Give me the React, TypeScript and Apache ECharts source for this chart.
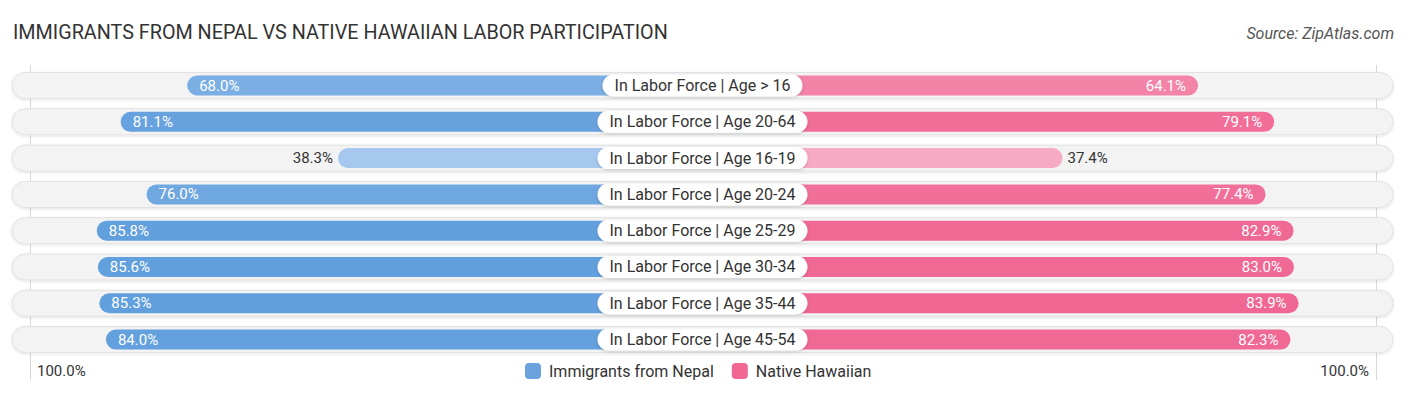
import React, { useEffect, useRef } from "react";
import * as echarts from "echarts";

const categories = [
  "In Labor Force | Age > 16",
  "In Labor Force | Age 20-64",
  "In Labor Force | Age 16-19",
  "In Labor Force | Age 20-24",
  "In Labor Force | Age 25-29",
  "In Labor Force | Age 30-34",
  "In Labor Force | Age 35-44",
  "In Labor Force | Age 45-54",
];
const nepal = [68.0, 81.1, 38.3, 76.0, 85.8, 85.6, 85.3, 84.0];
const hawaiian = [64.1, 79.1, 37.4, 77.4, 82.9, 83.0, 83.9, 82.3];
const seriesNames = ["Immigrants from Nepal", "Native Hawaiian"];
const edgeLabels = ["100.0%", "100.0%"];

const OFFSET = 33.5; // bars start from behind the centre label
const AXIS_MAX = 136;
const INSIDE_MIN = 50;

function lerpColor(a: number[], b: number[], t: number) {
  const c = a.map((v, i) => Math.round(v + (b[i] - v) * t));
  return `rgb(${c[0]},${c[1]},${c[2]})`;
}
const BLUE_LIGHT = [0xa9, 0xc9, 0xee];
const BLUE_DARK = [0x62, 0x9f, 0xdd];
const PINK_LIGHT = [0xf7, 0xab, 0xc3];
const PINK_DARK = [0xf0, 0x65, 0x92];
function shade(light: number[], dark: number[], v: number) {
  const t = Math.max(0, Math.min(1, (v - 37) / (85 - 37)));
  return lerpColor(light, dark, t);
}

export default function App() {
  const ref = useRef<HTMLDivElement>(null);
  useEffect(() => {
    if (!ref.current) return;
    const chart = echarts.init(ref.current, undefined, { renderer: "svg" });
    const font = "Roboto, 'Noto Sans', sans-serif";

    const valueLabel = (v: number, side: "left" | "right") => {
      const inside = v >= INSIDE_MIN;
      return {
        show: true,
        position: inside ? (side === "left" ? "insideLeft" : "insideRight") : side,
        distance: inside ? 12 : 5,
        color: inside ? "#ffffff" : "#333333",
        fontSize: 15,
        fontFamily: font,
        formatter: () => `${v.toFixed(1)}%`,
      };
    };

    const option: any = {
      animation: false,
      grid: { left: 12, right: 13, top: 67.4, height: 290.3, containLabel: false },
      xAxis: { type: "value", min: -AXIS_MAX, max: AXIS_MAX, show: false },
      yAxis: [
        { type: "category", data: categories, inverse: true, show: false },
        { type: "category", data: categories, inverse: true, show: false },
      ],
      title: [
        {
          text: "IMMIGRANTS FROM NEPAL VS NATIVE HAWAIIAN LABOR PARTICIPATION",
          left: 13,
          top: 22,
          padding: 0,
          textStyle: { fontFamily: font, fontSize: 19.75, fontWeight: "normal", color: "#333" },
        },
        {
          text: "Source: ZipAtlas.com",
          right: 12,
          top: 25,
          padding: 0,
          textStyle: { fontFamily: font, fontSize: 16, fontStyle: "italic", fontWeight: "normal", color: "#555" },
        },
      ],
      legend: {
        bottom: 16,
        left: 525,
        padding: 0,
        itemWidth: 16,
        itemHeight: 16,
        itemGap: 18,
        icon: "roundRect",
        textStyle: { fontFamily: font, fontSize: 16, color: "#333", padding: [0, 0, 0, 3] },
        data: seriesNames,
      },
      graphic: [
        { type: "line", shape: { x1: 30.5, y1: 65, x2: 30.5, y2: 380 }, style: { stroke: "#d8d8d8", lineWidth: 1 }, z: 0 },
        { type: "line", shape: { x1: 1376.5, y1: 65, x2: 1376.5, y2: 380 }, style: { stroke: "#d8d8d8", lineWidth: 1 }, z: 0 },
        { type: "text", left: 37, top: 363, style: { text: edgeLabels[0], fontFamily: font, fontSize: 15, fill: "#333" } },
        { type: "text", right: 37, top: 363, style: { text: edgeLabels[1], fontFamily: font, fontSize: 15, fill: "#333" } },
      ],
      series: [
        {
          type: "custom",
          name: "track",
          yAxisIndex: 1,
          z: 1,
          silent: true,
          data: categories.map((_, i) => [i]),
          renderItem: (params: any, api: any) => {
            const i = params.dataIndex;
            const p0 = api.coord([-AXIS_MAX, i]);
            const p1 = api.coord([AXIS_MAX, i]);
            const h = 26;
            return {
              type: "rect",
              shape: { x: p0[0], y: p0[1] - h / 2, width: p1[0] - p0[0], height: h, r: h / 2 },
              style: {
                fill: "#f3f3f3",
                stroke: "#e2e2e2",
                lineWidth: 1,
                shadowBlur: 3,
                shadowColor: "rgba(0,0,0,0.12)",
                shadowOffsetY: 1,
              },
            };
          },
        },
        {
          type: "bar",
          name: seriesNames[0],
          yAxisIndex: 0,
          z: 2,
          barWidth: 20,
          barGap: "-100%",
          itemStyle: { color: "#6aa2de", borderRadius: 10 },
          data: nepal.map((v) => ({
            value: -(v + OFFSET),
            itemStyle: { color: shade(BLUE_LIGHT, BLUE_DARK, v) },
            label: valueLabel(v, "left"),
          })),
        },
        {
          type: "bar",
          name: seriesNames[1],
          yAxisIndex: 0,
          z: 2,
          barWidth: 20,
          barGap: "-100%",
          itemStyle: { color: "#f06892", borderRadius: 10 },
          data: hawaiian.map((v) => ({
            value: v + OFFSET,
            itemStyle: { color: shade(PINK_LIGHT, PINK_DARK, v) },
            label: valueLabel(v, "right"),
          })),
        },
        {
          type: "scatter",
          name: "centre",
          yAxisIndex: 1,
          z: 5,
          symbolSize: 1,
          silent: true,
          itemStyle: { opacity: 1, color: "rgba(0,0,0,0)" },
          data: categories.map((c, i) => [0, i]),
          label: {
            show: true,
            position: "inside",
            formatter: (p: any) => categories[p.dataIndex],
            fontFamily: font,
            fontSize: 16,
            color: "#333",
            opacity: 1,
            backgroundColor: "#ffffff",
            borderRadius: 12,
            padding: [3, 12, 3, 12],
            shadowBlur: 3,
            shadowColor: "rgba(0,0,0,0.18)",
            shadowOffsetY: 1,
          },
        },
      ],
    };
    chart.setOption(option);
    return () => chart.dispose();
  }, []);
  return (
    <div
      ref={ref}
      style={{ position: "fixed", left: 0, top: 0, width: 1406, height: 395, background: "#fff" }}
    />
  );
}
